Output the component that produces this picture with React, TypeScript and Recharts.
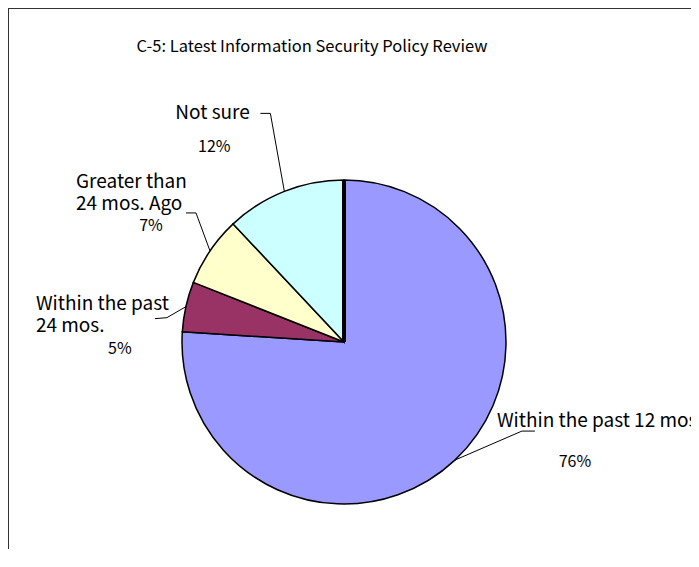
import React from "react";
import { PieChart, Pie, Cell } from "recharts";

const categories = [
  "Within the past 12 mos.",
  "Within the past\n24 mos.",
  "Greater than\n24 mos. Ago",
  "Not sure",
];
const shares = [76, 5, 7, 12];
const colors = ["#9999FF", "#993366", "#FFFFCC", "#CCFFFF"];

const data = categories.map((name, i) => ({ name, value: shares[i] }));

// label placement relative to the slice's edge point (leader elbow, leader end, text, percent)
const labelLayout = [
  { elbow: [67, -29], end: [80, -29], text: [42, -42], pct: [120, 0] },
  { elbow: [-19, 11], end: [-31, 12], text: [-150, -5], pct: [-66, 40] },
  { elbow: [-14, -38], end: [-24, -38], text: [-134, -71], pct: [-59, -27] },
  { elbow: [-14, -78], end: [-24, -78], text: [-109, -81], pct: [-70, -46] },
];

const RAD = Math.PI / 180;
const FONT = "'Noto Sans CJK JP', 'Noto Sans', sans-serif";

function renderLabel(props: any) {
  const { cx, cy, midAngle, outerRadius, index, name, value } = props;
  const ex = cx + outerRadius * Math.cos(-midAngle * RAD);
  const ey = cy + outerRadius * Math.sin(-midAngle * RAD);
  const l = labelLayout[index];
  const lines = String(name).split("\n");
  const sx = cx + outerRadius * Math.cos(-90 * RAD);
  const sy = cy + outerRadius * Math.sin(-90 * RAD);
  return (
    <g key={"lbl" + index}>
      {index === 0 && (
        <line x1={cx} y1={cy} x2={sx} y2={sy} stroke="#000" strokeWidth={4} />
      )}
      <polyline
        points={`${ex},${ey} ${ex + l.elbow[0]},${ey + l.elbow[1]} ${ex + l.end[0]},${ey + l.end[1]}`}
        fill="none"
        stroke="#000"
        strokeWidth={1}
      />
      {lines.map((t, j) => (
        <text
          key={j}
          x={ex + l.text[0]}
          y={ey + l.text[1] + j * 22}
          textAnchor="start"
          dominantBaseline="central"
          fontSize={19}
          fontFamily={FONT}
          fill="#000"
        >
          {t}
        </text>
      ))}
      <text
        x={ex + l.pct[0]}
        y={ey + l.pct[1]}
        textAnchor="middle"
        dominantBaseline="central"
        fontSize={16}
        fontFamily={FONT}
        fill="#000"
      >
        {value + "%"}
      </text>
    </g>
  );
}

export default function App() {
  return (
    <div
      style={{
        position: "relative",
        width: 690,
        height: 540,
        borderLeft: "1px solid #333",
        borderTop: "1px solid #333",
        background: "#fff",
      }}
    >
      <div
        style={{
          position: "absolute",
          left: 0,
          width: 606,
          top: 25,
          textAlign: "center",
          fontFamily: FONT,
          fontSize: 16.5,
          lineHeight: "22px",
          color: "#000",
        }}
      >
        C-5: Latest Information Security Policy Review
      </div>
      <PieChart width={690} height={540}>
        <Pie
          data={data}
          dataKey="value"
          nameKey="name"
          cx={330}
          cy={328}
          outerRadius={162}
          startAngle={90}
          endAngle={-270}
          stroke="#000"
          strokeWidth={1.5}
          label={renderLabel}
          labelLine={false}
          isAnimationActive={false}
        >
          {data.map((d, i) => (
            <Cell key={d.name} fill={colors[i]} />
          ))}
        </Pie>
      </PieChart>
    </div>
  );
}
